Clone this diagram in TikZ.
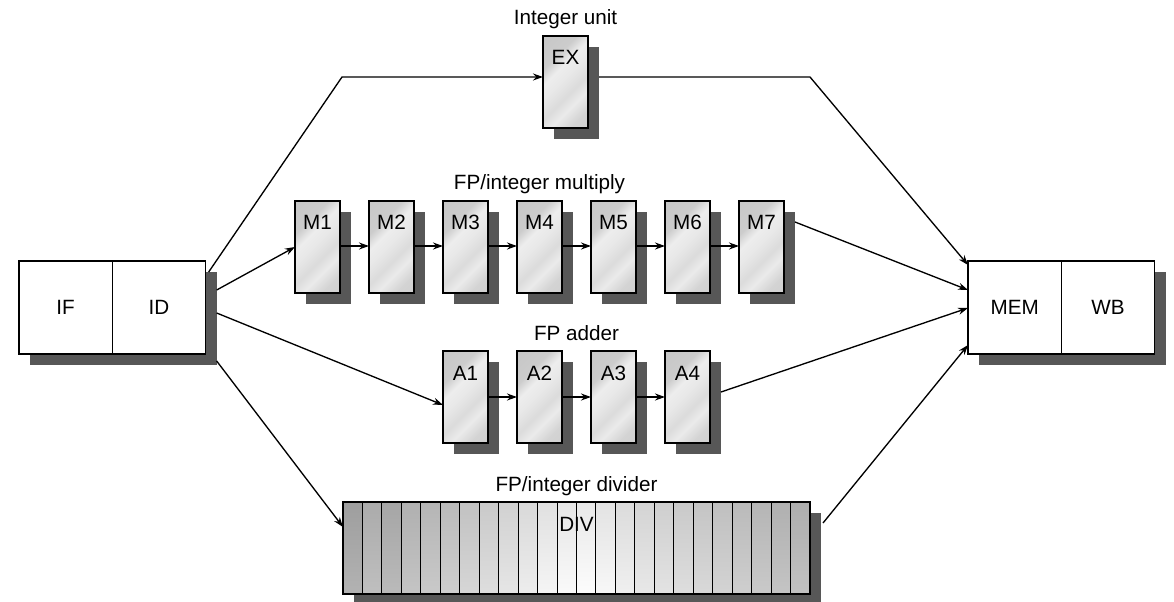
\documentclass[tikz,border=0pt]{standalone}
\usepackage{fontspec}
\setmainfont{Liberation Sans}
\usetikzlibrary{arrows.meta,calc,shadows,backgrounds}
\definecolor{shadowgray}{gray}{0.34}
\pgfdeclarehorizontalshading{stageshade}{100bp}{color(0bp)=(black!24); color(32bp)=(black!20); color(40bp)=(black!7); color(48bp)=(black!9); color(58bp)=(black!14); color(66bp)=(black!8); color(76bp)=(black!17); color(100bp)=(black!21)}

\begin{document}
\begin{tikzpicture}[x=0.75pt,y=-0.75pt,>={Stealth[length=7.5pt,width=5.25pt]},
  every node/.style={font=\fontsize{15.5}{18}\selectfont},
  boxshadow/.style={drop shadow={shadow xshift=8.25pt,shadow yshift=-8.25pt,fill=shadowgray,opacity=1}},
  halfbox/.style={draw,line width=1.1pt,fill=white,minimum width=70pt,minimum height=69.75pt,inner sep=0pt,outer sep=0pt,anchor=north west},
  stagebox/.style={draw,line width=1.1pt,boxshadow,shading=stageshade,shading angle=-45,minimum width=33.75pt,inner sep=0pt,outer sep=0pt,text height=21.75pt,text depth=47.25pt,anchor=north west},
  grouplabel/.style={anchor=base,inner sep=0pt},
  wire/.style={->,line width=1pt}]
\useasboundingbox (0,0) rectangle (1174,602);

\node[halfbox] (IF) at (19,261) {IF};
\node[halfbox] (ID) at (IF.north east) {ID};
\node[halfbox] (MEM) at (968,261) {MEM};
\node[halfbox] (WB) at (MEM.north east) {WB};
\begin{scope}[on background layer]
\fill[shadowgray] ($(IF.north west)+(11,11)$) rectangle ($(ID.south east)+(11,11)$);
\fill[shadowgray] ($(MEM.north west)+(11,11)$) rectangle ($(WB.south east)+(11,11)$);
\end{scope}

\node[stagebox] (EX) at (543,36) {EX};
\foreach \i in {1,...,7} \node[stagebox] (M\i) at ({295+74*(\i-1)},201) {M\i};
\foreach \i in {1,...,4} \node[stagebox] (A\i) at ({443+74*(\i-1)},351) {A\i};

\node[draw,line width=1.1pt,boxshadow,minimum width=350.25pt,inner sep=0pt,outer sep=0pt,
  text height=21.75pt,text depth=47.25pt,anchor=north west,
  path picture={
    \foreach \g [count=\k from 0,evaluate=\g as \h using \g-8] in
      {38,33,35,31,29,27,24,21,18,15,12,10,9,11,14,17,19,21,23,25,27,29,31,32}
      \draw[line width=0.7pt,top color=black!\g,bottom color=black!\h]
        ($(path picture bounding box.north west)+({19.458*\k},0)$) rectangle +(19.458,92);
  }] (DIV) at (343,502) {DIV};

\node[grouplabel] (intlabel) at ($(EX.north)+(0,-11)$) {Integer unit};
\node[grouplabel] (mullabel) at ($(M4.north)+(0,-11)$) {FP/integer multiply};
\node[grouplabel] (addlabel) at ($(A2.north)!0.5!(A3.north)+(0,-11)$) {FP adder};
\node[grouplabel] (divlabel) at ($(DIV.north)+(0,-11)$) {FP/integer divider};

\foreach \i [count=\j from 2] in {1,...,6}
  \draw[wire] ($(M\i.north east)+(0,45)$) -- ($(M\j.north west)+(0,45)$);
\foreach \i [count=\j from 2] in {1,...,3}
  \draw[wire] ($(A\i.north east)+(0,46)$) -- ($(A\j.north west)+(0,46)$);

\coordinate (exin) at (342,77);
\coordinate (exout) at (810,77);
\draw[wire] ($(ID.north east)+(3,11)$) -- (exin) -- ($(EX.north west)+(0,41)$);
\draw[wire] ($(ID.north east)+(11,29)$) -- ($(M1.north west)+(0,46)$);
\draw[wire] ($(ID.north east)+(11,52)$) -- ($(A1.north west)+(0,54)$);
\draw[wire] ($(ID.north east)+(11,100)$) -- ($(DIV.north west)+(0,25)$);

\draw[wire] ($(EX.north east)+(11,41)$) -- (exout) -- ($(MEM.north west)+(0,4)$);
\draw[wire] ($(M7.north east)+(11,21)$) -- ($(MEM.north west)+(0,29)$);
\draw[wire] ($(A4.north east)+(11,41)$) -- ($(MEM.north west)+(0,47)$);
\draw[wire] ($(DIV.north east)+(13,21)$) -- ($(MEM.north west)+(0,84)$);
\end{tikzpicture}
\end{document}
